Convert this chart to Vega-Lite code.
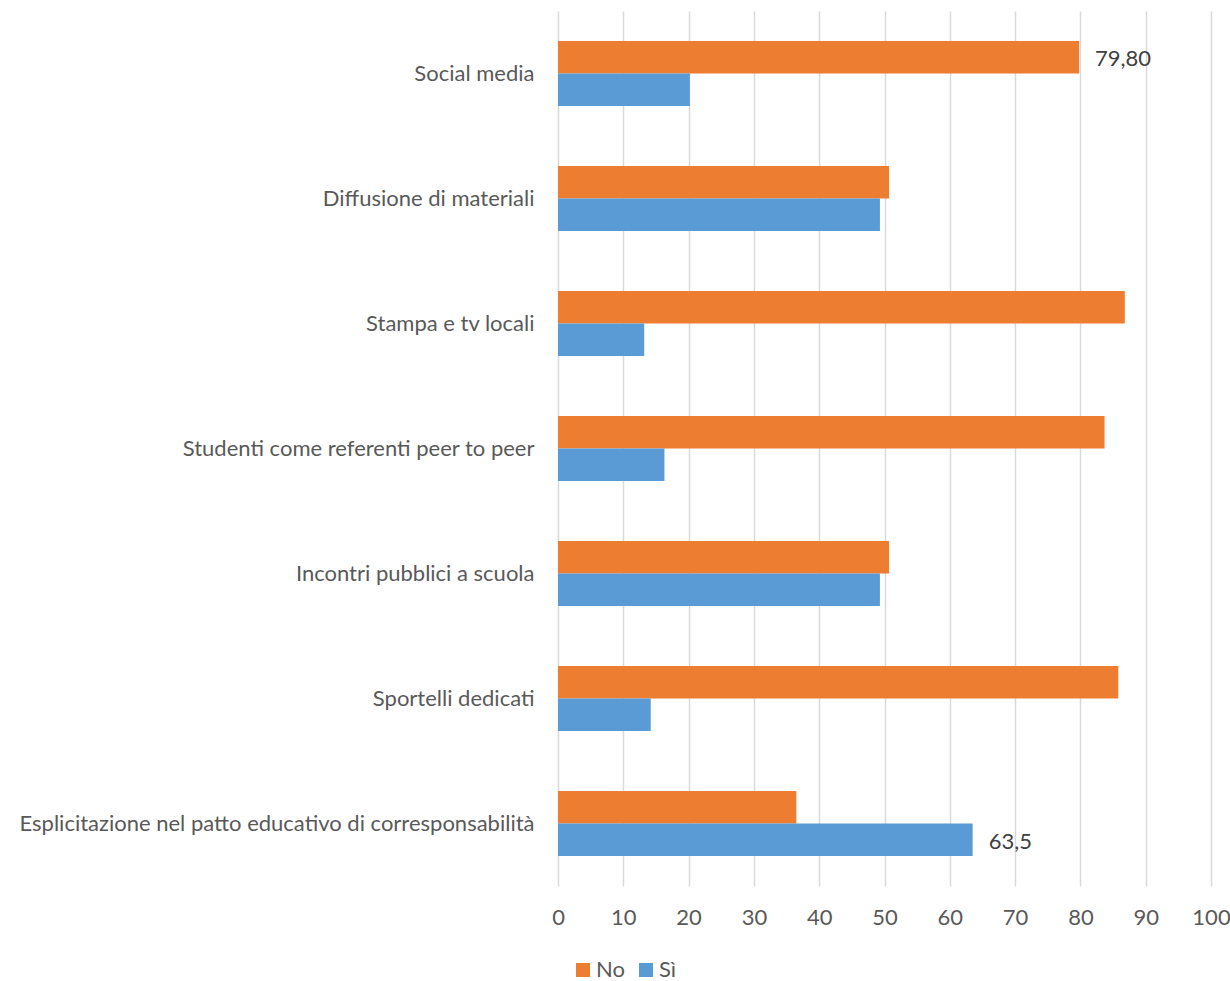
{
  "$schema": "https://vega.github.io/schema/vega-lite/v6.json",
  "width": 653,
  "height": 875,
  "autosize": {"type": "none"},
  "padding": {"left": 558, "top": 11, "right": 19, "bottom": 95},
  "background": "white",
  "config": {
    "view": {"stroke": null},
    "font": "Lato"
  },
  "data": {
    "values": [
      {"cat": "Social media", "serie": "No", "value": 79.8, "label": "79,80"},
      {"cat": "Social media", "serie": "Sì", "value": 20.2, "label": null},
      {"cat": "Diffusione di materiali", "serie": "No", "value": 50.7, "label": null},
      {"cat": "Diffusione di materiali", "serie": "Sì", "value": 49.3, "label": null},
      {"cat": "Stampa e tv locali", "serie": "No", "value": 86.8, "label": null},
      {"cat": "Stampa e tv locali", "serie": "Sì", "value": 13.2, "label": null},
      {"cat": "Studenti come referenti peer to peer", "serie": "No", "value": 83.7, "label": null},
      {"cat": "Studenti come referenti peer to peer", "serie": "Sì", "value": 16.3, "label": null},
      {"cat": "Incontri pubblici a scuola", "serie": "No", "value": 50.7, "label": null},
      {"cat": "Incontri pubblici a scuola", "serie": "Sì", "value": 49.3, "label": null},
      {"cat": "Sportelli dedicati", "serie": "No", "value": 85.8, "label": null},
      {"cat": "Sportelli dedicati", "serie": "Sì", "value": 14.2, "label": null},
      {"cat": "Esplicitazione nel patto educativo di corresponsabilità", "serie": "No", "value": 36.5, "label": null},
      {"cat": "Esplicitazione nel patto educativo di corresponsabilità", "serie": "Sì", "value": 63.5, "label": "63,5"}
    ]
  },
  "encoding": {
    "y": {
      "field": "cat",
      "type": "nominal",
      "sort": null,
      "scale": {"paddingInner": 0.48, "paddingOuter": 0.24},
      "axis": {
        "title": null,
        "domain": false,
        "ticks": false,
        "grid": false,
        "labelFont": "Lato",
        "labelFontSize": 22,
        "labelColor": "#595959",
        "labelPadding": 24,
        "labelLimit": 700
      }
    },
    "yOffset": {
      "field": "serie",
      "type": "nominal",
      "sort": ["No", "Sì"],
      "scale": {"paddingInner": 0, "paddingOuter": 0}
    },
    "x": {
      "field": "value",
      "type": "quantitative",
      "scale": {"domain": [0, 100], "nice": false},
      "axis": {
        "title": null,
        "values": [0, 10, 20, 30, 40, 50, 60, 70, 80, 90, 100],
        "domain": false,
        "ticks": false,
        "grid": true,
        "gridColor": "#d9d9d9",
        "gridWidth": 1.5,
        "labelFlush": false,
        "labelFont": "Lato",
        "labelFontSize": 22,
        "labelColor": "#595959",
        "labelPadding": 21
      }
    }
  },
  "layer": [
    {
      "mark": {"type": "bar"},
      "encoding": {
        "color": {
          "field": "serie",
          "type": "nominal",
          "scale": {"domain": ["No", "Sì"], "range": ["#ED7D31", "#5B9BD5"]},
          "legend": {
            "title": null,
            "orient": "none",
            "direction": "horizontal",
            "legendX": 14,
            "legendY": 948,
            "symbolType": "square",
            "symbolSize": 196,
            "symbolStrokeWidth": 0,
            "labelFont": "Lato",
            "labelFontSize": 22,
            "labelColor": "#595959",
            "columnPadding": 10,
            "labelOffset": 2
          }
        }
      }
    },
    {
      "transform": [{"filter": "datum.label != null"}],
      "mark": {"type": "text", "align": "left", "baseline": "middle", "dx": 16, "dy": 2, "font": "Lato", "fontSize": 22, "color": "#404040"},
      "encoding": {
        "text": {"field": "label"}
      }
    }
  ]
}
